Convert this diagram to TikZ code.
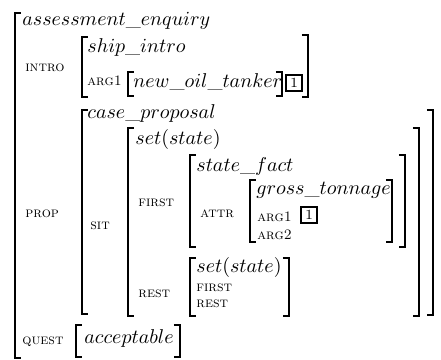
\documentclass[tikz,border=0pt]{standalone}
\usepackage{tikz}
\usetikzlibrary{positioning}

\begin{document}
\begin{tikzpicture}[
  x=0.5pt, y=-0.5pt,
  type/.style={inner sep=0pt, anchor=mid west, font=\normalsize},
  feat/.style={inner sep=0pt, anchor=mid west, font=\fontsize{7.2}{8}\selectfont\scshape},
  tag/.style={draw, line width=0.9pt, inner sep=1.2pt, minimum size=8pt, font=\scriptsize},
  brk/.style={line width=1.2pt, line cap=butt},
]
\useasboundingbox (0,0) rectangle (441,360);
% ---------------- top level: assessment_enquiry
\node[type] (ae) at (22,21) {$assessment\_enquiry$};
\node[feat] (intro) at (25,67) {intro};
\node[feat] (prop) at (25,213) {prop};
\node[feat] (quest) at (22,340) {quest};
% ---------------- intro value
\node[type] (ship) at (87,48) {$ship\_intro$};
\node[feat] (arga) at (87,81) {arg1};
\node[type] (tanker) at (133,83) {$new\_oil\_tanker$};
\node[tag] (taga) at (294,83) {1};
% ---------------- prop value: case_proposal / set(state)
\node[type] (case) at (87,114) {$case\_proposal$};
\node[feat] (sit) at (90,225) {sit};
\node[type] (seta) at (135,140) {$set(state)$};
\node[feat] (firsta) at (138,202) {first};
\node[type] (fact) at (196,167) {$state\_fact$};
\node[feat] (attr) at (200,213) {attr};
\node[type] (gross) at (256,190) {$gross\_tonnage$};
\node[feat] (argb) at (257,217) {arg1};
\node[tag] (tagb) at (309,215) {1};
\node[feat] (argc) at (257,235) {arg2};
\node[feat] (resta) at (138,293) {rest};
\node[type] (setb) at (196,268) {$set(state)$};
\node[feat] (firstb) at (196,287) {first};
\node[feat] (restb) at (196,303) {rest};
% ---------------- quest value
\node[type] (accept) at (84,339) {$acceptable$};
% ---------------- brackets: x / top / bottom
\foreach \x/\t/\b in {15/13/358, 82/37/97, 128/72/96, 82/110/314, 128/128/316,
    190/155/247, 250/180/242, 190/258/316, 76/325/357}
  \draw[brk] (\x+6,\t) -- (\x,\t) -- (\x,\b) -- (\x+6,\b);
\foreach \x/\t/\b in {282/72/96, 308/35/97, 433/110/315, 419/128/316,
    405/155/247, 392/180/242, 289/258/316, 180/325/357}
  \draw[brk] (\x-6,\t) -- (\x,\t) -- (\x,\b) -- (\x-6,\b);
\end{tikzpicture}
\end{document}
